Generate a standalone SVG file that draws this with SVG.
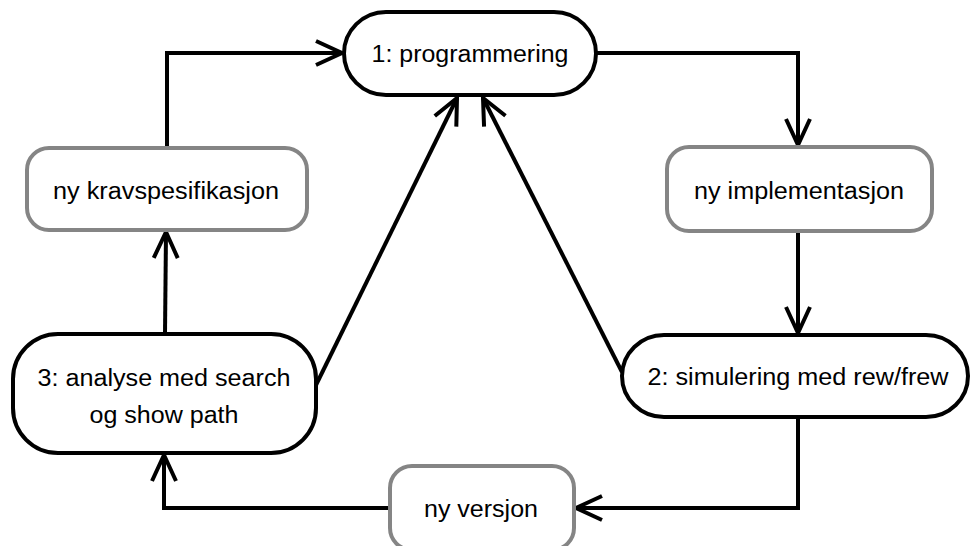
<svg xmlns="http://www.w3.org/2000/svg" width="970" height="546" viewBox="0 0 970 546">
<style>
.main{fill:#fff;stroke:#000;stroke-width:4}
.sub{fill:#fff;stroke:#858585;stroke-width:4}
.lbl{font-family:"Liberation Sans",Arial,Helvetica,sans-serif;font-size:23px;fill:#000;text-anchor:middle}
.conn{fill:none;stroke:#000;stroke-width:4;marker-end:url(#arr)}
</style>
<defs>
<marker id="arr" markerUnits="userSpaceOnUse" markerWidth="40" markerHeight="40" refX="0" refY="0" viewBox="-30 -20 40 40" orient="auto" overflow="visible">
<path d="M-26,-12 L0,0 L-26,12" fill="none" stroke="#000" stroke-width="4" stroke-linejoin="miter"/>
</marker>
</defs>
<rect width="970" height="546" fill="#fff"/>
<g id="connectors">
<path class="conn" d="M596,53 H798 V145"/>
<path class="conn" d="M798,231 V333"/>
<path class="conn" d="M798,417 V508 H576"/>
<path class="conn" d="M390,508 H164 V455"/>
<path class="conn" d="M165,334 L166,232"/>
<path class="conn" d="M167,148 V53 H342"/>
<path class="conn" d="M316,385 L457,98"/>
<path class="conn" d="M622,372 L483,98"/>
</g>
<g id="n1">
<rect class="main" x="344" y="12" width="252" height="83" rx="42" ry="42"/>
<text class="lbl" x="470" y="62" textLength="197" lengthAdjust="spacingAndGlyphs">1: programmering</text>
</g>
<g id="impl">
<rect class="sub" x="667" y="147" width="265" height="84" rx="22" ry="22"/>
<text class="lbl" x="799" y="199" textLength="210" lengthAdjust="spacingAndGlyphs">ny implementasjon</text>
</g>
<g id="n2">
<rect class="main" x="622" y="335" width="346" height="82" rx="42" ry="42"/>
<text class="lbl" x="798" y="385" textLength="301" lengthAdjust="spacingAndGlyphs">2: simulering med rew/frew</text>
</g>
<g id="versjon">
<rect class="sub" x="390" y="466" width="184" height="84" rx="22" ry="22"/>
<text class="lbl" x="481" y="517" textLength="114" lengthAdjust="spacingAndGlyphs">ny versjon</text>
</g>
<g id="n3">
<rect class="main" x="13" y="334" width="303" height="119" rx="45" ry="45"/>
<text class="lbl" x="164" y="386" textLength="253" lengthAdjust="spacingAndGlyphs">3: analyse med search</text>
<text class="lbl" x="164" y="423" textLength="149" lengthAdjust="spacingAndGlyphs">og show path</text>
</g>
<g id="krav">
<rect class="sub" x="27" y="148" width="280" height="82" rx="22" ry="22"/>
<text class="lbl" x="166" y="199" textLength="226" lengthAdjust="spacingAndGlyphs">ny kravspesifikasjon</text>
</g>
</svg>
